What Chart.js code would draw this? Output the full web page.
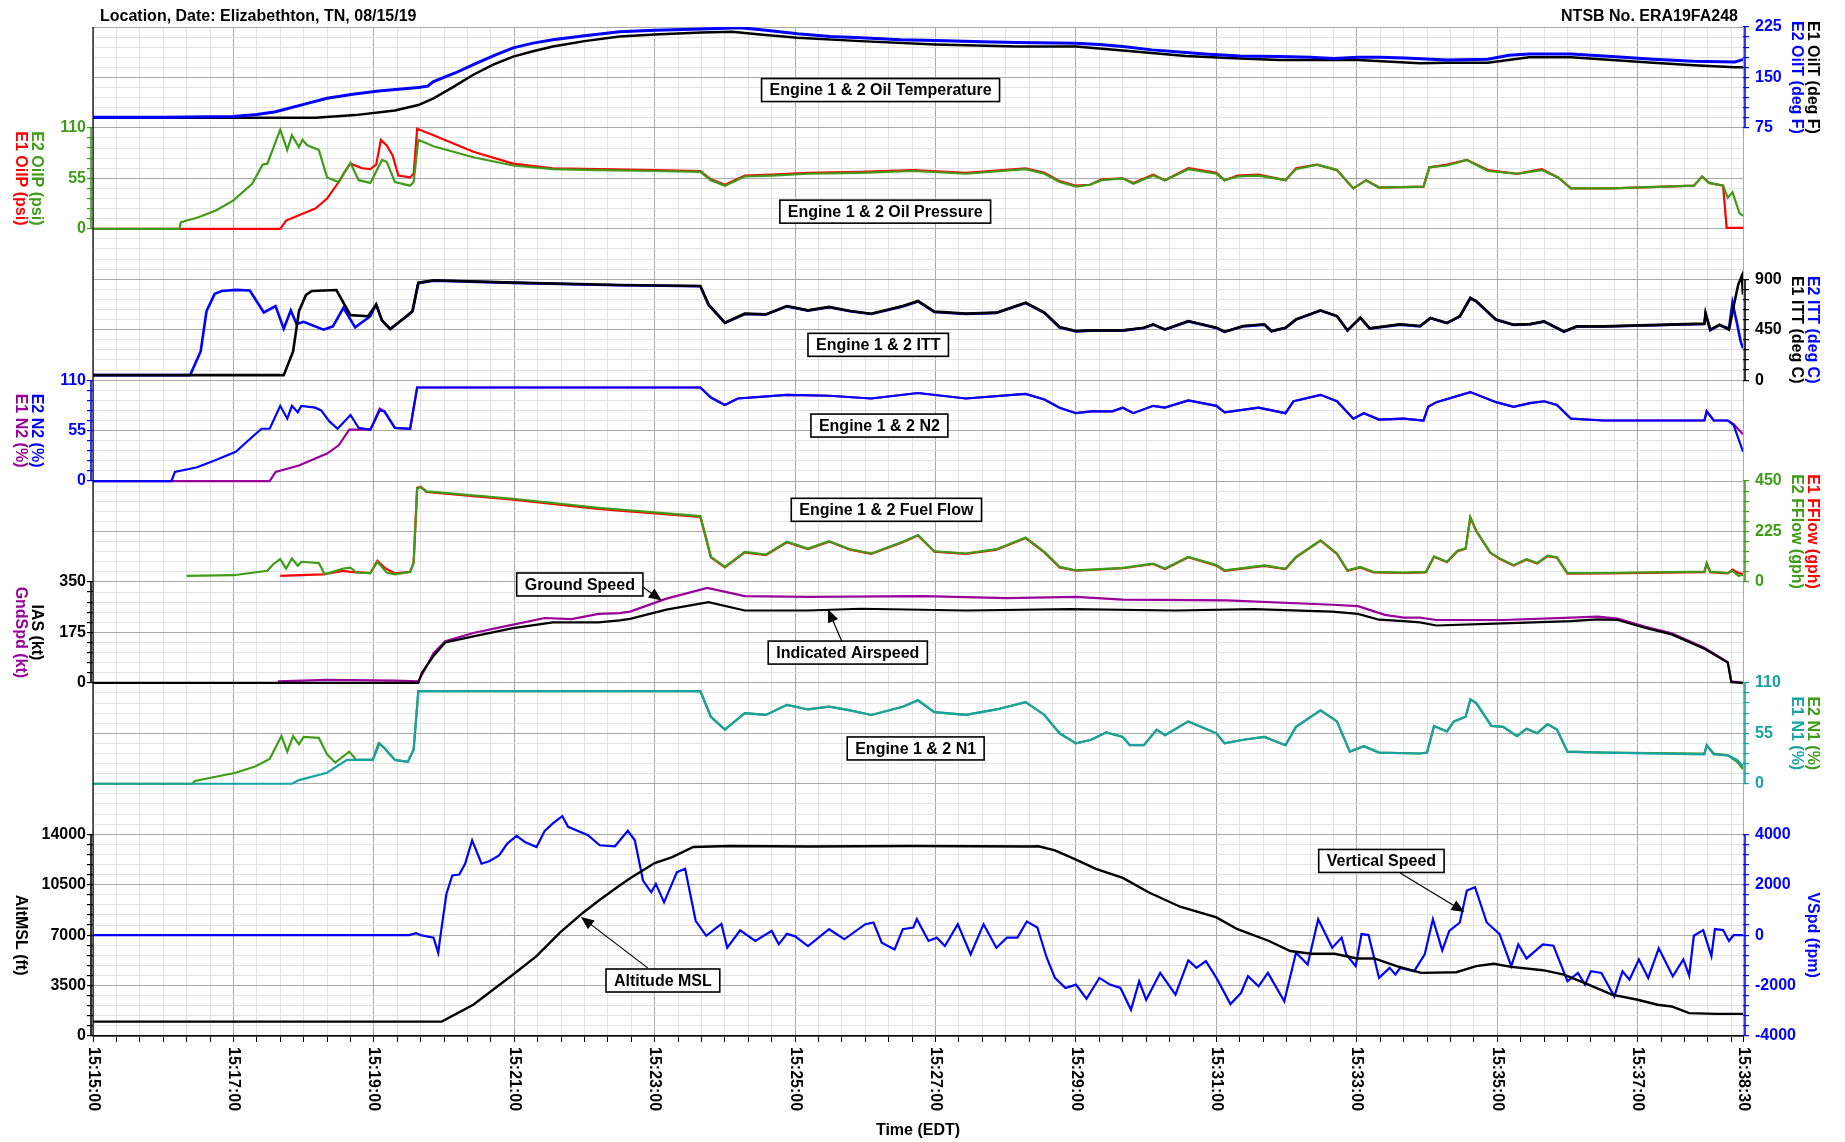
<!DOCTYPE html>
<html>
<head>
<meta charset="utf-8">
<script src="https://cdn.jsdelivr.net/npm/chart.js@4.4.1/dist/chart.umd.min.js"></script>
<style>
html,body{margin:0;padding:0;background:#fff;}
#wrap{width:1845px;height:1142px;position:relative;}
</style>
</head>
<body>
<div id="wrap"><canvas id="c" width="1845" height="1142"></canvas></div>
<script>
const FONT = "'Liberation Sans', Arial, sans-serif";

// ---------- tick labels (time in seconds after 15:15:00) ----------
const timeTickSecs = [0,120,240,360,480,600,720,840,960,1080,1200,1320,1410];
const timeTickLabels = ['15:15:00','15:17:00','15:19:00','15:21:00','15:23:00','15:25:00','15:27:00','15:29:00','15:31:00','15:33:00','15:35:00','15:37:00','15:38:30'];
const oilTTicks = [75,150,225];
const oilPTicks = [0,55,110];
const ittTicks  = [0,450,900];
const n2Ticks   = [0,55,110];
const ffTicks   = [0,225,450];
const spdTicks  = [0,175,350];
const n1Ticks   = [0,55,110];
const altTicks  = [0,3500,7000,10500,14000];
const vspdTicks = [-4000,-2000,0,2000,4000];

// ---------- series: [seconds after 15:15:00, value] ----------
const E2_OilT = [[0,91],[60,91],[120,92],[140,95],[156,99],[180,110],[200,119],[222,125],[244,130],[278,135],[286,137],[291,144],[310,157],[325,169],[342,182],[359,194],[376,201],[393,206],[420,212],[450,218],[480,220],[520,222],[553,224],[575,220],[602,215],[630,211],[656,209],[690,206],[720,205],[760,203],[790,202],[840,201],[860,199],[880,196],[905,191],[934,187],[950,185],[980,182],[1014,181],[1040,180],[1060,178],[1081,180],[1100,180],[1121,179],[1157,176],[1192,177],[1210,183],[1227,185],[1263,185],[1298,181],[1333,177],[1368,174],[1403,173],[1407,175],[1410,177]];
const E1_OilT = [[0,90],[120,90],[190,90],[224,94],[258,101],[278,109],[291,119],[308,136],[325,154],[342,169],[359,181],[376,189],[393,196],[420,204],[450,211],[480,214],[520,217],[546,218],[570,214],[602,209],[656,204],[720,199],[790,196],[840,196],[880,190],[934,182],[970,179],[1014,176],[1051,176],[1081,176],[1134,171],[1157,172],[1192,172],[1227,180],[1263,180],[1298,176],[1333,172],[1368,168],[1403,165],[1410,165]];

const E2_OilP = [[0,0],[74,0],[75,7],[80,9],[89,12],[105,20],[120,31],[136,49],[145,70],[149,71],[160,108],[166,86],[170,102],[176,89],[179,97],[183,91],[193,86],[200,56],[210,51],[220,72],[227,53],[237,50],[247,75],[251,73],[258,51],[271,47],[274,51],[278,97],[291,90],[325,78],[359,69],[393,65],[432,64],[480,63],[519,62],[528,53],[540,47],[557,57],[580,58],[611,60],[656,61],[701,63],[746,60],[797,65],[813,60],[826,51],[840,46],[852,48],[862,53],[880,55],[889,49],[906,58],[916,53],[936,65],[960,60],[967,53],[978,57],[996,58],[1019,53],[1028,65],[1046,70],[1063,64],[1077,44],[1088,53],[1099,45],[1137,46],[1142,67],[1157,69],[1174,75],[1192,63],[1217,60],[1238,64],[1252,56],[1263,44],[1298,44],[1368,47],[1375,57],[1381,50],[1393,47],[1397,34],[1401,40],[1407,17],[1410,14]];
const E1_OilP = [[0,0],[160,0],[165,9],[190,22],[200,33],[210,51],[215,62],[220,71],[230,66],[237,65],[242,70],[246,97],[251,91],[256,80],[261,58],[271,56],[274,60],[277,109],[291,102],[325,84],[359,71],[393,66],[432,65],[480,64],[519,63],[528,54],[540,48],[557,58],[580,59],[611,61],[656,62],[701,64],[746,61],[797,66],[813,61],[826,52],[840,47],[852,48],[862,54],[880,55],[889,50],[906,59],[916,53],[936,66],[960,61],[967,53],[978,58],[996,59],[1019,53],[1028,66],[1046,70],[1063,64],[1077,44],[1088,53],[1099,45],[1137,46],[1142,67],[1157,70],[1174,75],[1192,64],[1217,60],[1238,65],[1252,56],[1263,44],[1298,44],[1368,47],[1375,57],[1381,50],[1393,47],[1396,1],[1410,1]];

const E1_ITT = [[0,45],[163,45],[171,256],[176,615],[182,760],[187,795],[208,804],[220,580],[235,570],[242,675],[247,531],[254,456],[268,570],[273,615],[278,870],[291,891],[359,870],[450,849],[519,840],[526,676],[540,513],[557,593],[575,587],[593,661],[611,623],[629,653],[647,617],[665,593],[692,661],[705,706],[719,611],[746,593],[772,602],[797,691],[813,602],[826,474],[840,438],[853,444],[880,444],[898,468],[906,498],[916,453],[936,527],[960,468],[967,432],[983,483],[1001,498],[1007,438],[1019,468],[1028,542],[1049,623],[1063,572],[1072,444],[1083,557],[1091,462],[1117,498],[1134,483],[1143,555],[1157,510],[1168,570],[1177,735],[1182,705],[1199,540],[1214,495],[1228,500],[1240,525],[1257,435],[1268,480],[1291,480],[1377,504],[1378,600],[1382,450],[1390,495],[1398,450],[1402,660],[1406,855],[1409,930],[1410,765]];
const E2_ITT = [[0,45],[83,45],[92,256],[97,615],[104,770],[110,795],[122,805],[134,800],[146,604],[156,660],[163,459],[169,621],[174,500],[180,520],[197,450],[205,480],[214,645],[224,471],[237,570],[242,675],[247,531],[254,456],[268,570],[273,615],[278,865],[291,888],[359,868],[450,847],[519,838],[526,670],[540,510],[557,590],[575,585],[593,658],[611,620],[629,650],[647,615],[665,590],[692,658],[705,702],[719,608],[746,590],[772,600],[797,688],[813,600],[826,470],[840,435],[853,442],[880,442],[898,465],[906,495],[916,450],[936,524],[960,465],[967,430],[983,480],[1001,495],[1007,435],[1019,465],[1028,540],[1049,620],[1063,570],[1072,442],[1083,555],[1091,460],[1117,495],[1134,480],[1143,552],[1157,508],[1168,567],[1177,730],[1182,702],[1199,538],[1214,492],[1228,498],[1240,522],[1257,432],[1268,478],[1291,478],[1377,500],[1378,590],[1382,445],[1390,490],[1398,460],[1401,690],[1405,500],[1408,345],[1410,285]];

const E2_N2 = [[0,0],[67,0],[70,10],[89,15],[105,23],[122,32],[136,48],[144,57],[151,57],[160,82],[166,68],[170,82],[175,75],[178,82],[190,80],[195,77],[202,65],[209,57],[220,72],[227,58],[237,56],[245,77],[249,76],[258,58],[271,57],[277,102],[432,102],[519,102],[528,91],[540,83],[551,90],[593,94],[629,93],[665,90],[705,96],[746,90],[797,95],[813,89],[826,80],[840,74],[853,76],[871,76],[880,80],[889,74],[906,82],[916,80],[936,88],[960,82],[967,75],[996,80],[1019,74],[1026,87],[1049,94],[1063,87],[1077,68],[1086,74],[1099,67],[1120,68],[1137,66],[1141,81],[1148,86],[1177,97],[1199,86],[1214,81],[1228,85],[1240,87],[1251,83],[1263,68],[1291,66],[1377,66],[1379,76],[1385,66],[1397,66],[1402,61],[1410,32]];
const E1_N2 = [[0,0],[151,0],[156,10],[176,17],[200,30],[210,39],[219,56],[237,56],[245,79],[249,76],[258,58],[271,57],[277,102],[432,102],[519,102],[528,91],[540,83],[551,90],[593,94],[629,93],[665,90],[705,96],[746,90],[797,95],[813,89],[826,80],[840,74],[853,76],[871,76],[880,80],[889,74],[906,82],[916,80],[936,88],[960,82],[967,75],[996,80],[1019,74],[1026,87],[1049,94],[1063,87],[1077,68],[1086,74],[1099,67],[1120,68],[1137,66],[1141,81],[1148,86],[1177,97],[1199,86],[1214,81],[1228,85],[1240,87],[1251,83],[1263,68],[1291,66],[1377,66],[1379,76],[1385,66],[1397,66],[1402,62],[1410,51]];

const E2_FF = [[80,27],[120,30],[149,50],[154,79],[160,102],[165,60],[170,105],[175,72],[178,90],[193,84],[198,34],[214,60],[220,64],[225,42],[237,39],[243,90],[251,42],[258,34],[271,45],[274,87],[277,416],[280,423],[285,404],[359,371],[432,331],[450,323],[519,294],[524,194],[528,112],[540,67],[557,134],[575,122],[593,179],[611,149],[629,182],[647,146],[665,127],[692,179],[705,209],[719,137],[746,127],[772,146],[797,198],[813,134],[826,67],[840,52],[880,63],[906,82],[916,60],[936,112],[960,75],[967,52],[1001,74],[1019,59],[1028,112],[1049,186],[1063,127],[1072,52],[1083,67],[1094,45],[1120,42],[1139,45],[1146,114],[1157,90],[1166,139],[1173,150],[1177,289],[1182,229],[1194,132],[1202,105],[1214,75],[1225,102],[1234,84],[1243,117],[1251,110],[1260,39],[1291,40],[1377,46],[1379,84],[1382,46],[1397,40],[1401,50],[1406,27],[1410,32]];
const E1_FF = [[160,27],[196,34],[214,49],[220,45],[237,39],[243,94],[249,64],[258,38],[271,45],[274,85],[277,420],[280,425],[285,402],[359,367],[432,326],[450,318],[519,290],[524,192],[528,110],[540,65],[557,132],[575,120],[593,177],[611,147],[629,180],[647,144],[665,125],[692,177],[705,207],[719,135],[746,125],[772,144],[797,196],[813,132],[826,65],[840,50],[880,61],[906,80],[916,58],[936,110],[960,73],[967,50],[1001,72],[1019,57],[1028,110],[1049,184],[1063,125],[1072,50],[1083,65],[1094,43],[1120,40],[1139,43],[1146,112],[1157,88],[1166,137],[1173,148],[1177,287],[1182,227],[1194,130],[1202,103],[1214,73],[1225,100],[1234,82],[1243,115],[1251,108],[1260,37],[1291,38],[1377,44],[1379,82],[1382,44],[1397,38],[1401,55],[1406,40],[1410,36]];

const IAS = [[0,0],[278,0],[281,35],[291,93],[301,140],[325,161],[359,190],[393,210],[432,210],[450,217],[459,222],[490,254],[526,280],[557,251],[611,251],[656,257],[746,251],[835,256],[925,251],[992,256],[1059,247],[1081,239],[1099,219],[1120,214],[1134,210],[1148,199],[1205,206],[1263,214],[1286,220],[1303,218],[1326,191],[1349,168],[1377,118],[1397,70],[1400,2],[1410,0]];
const GndSpd = [[158,5],[200,10],[258,8],[278,5],[291,103],[301,144],[325,173],[359,202],[386,225],[409,221],[432,239],[450,242],[459,247],[490,292],[525,329],[557,301],[611,298],[710,301],[781,294],[840,298],[880,289],[969,286],[1059,271],[1081,266],[1104,236],[1120,226],[1134,226],[1148,218],[1205,218],[1263,226],[1286,230],[1303,223],[1326,195],[1349,172],[1377,122],[1397,72],[1400,5],[1410,0]];

const E1_N1 = [[0,0],[170,0],[176,4],[200,12],[217,26],[239,26],[245,44],[249,39],[258,26],[269,24],[274,37],[278,101],[432,101],[519,101],[528,73],[540,59],[557,77],[575,75],[593,86],[611,81],[629,84],[647,80],[665,75],[692,84],[705,91],[719,78],[746,75],[772,81],[797,89],[813,75],[826,55],[840,44],[853,48],[866,56],[880,51],[886,42],[898,42],[909,59],[916,53],[936,68],[960,55],[967,44],[983,48],[1001,51],[1019,42],[1028,62],[1049,80],[1063,68],[1074,35],[1086,41],[1099,34],[1134,33],[1140,34],[1146,63],[1157,57],[1163,68],[1173,73],[1177,92],[1182,88],[1195,63],[1205,62],[1217,52],[1225,60],[1234,55],[1243,65],[1251,59],[1260,35],[1291,34],[1377,32],[1379,42],[1385,32],[1397,31],[1405,26],[1410,19]];
const E2_N1 = [[0,0],[85,0],[87,3],[122,12],[139,19],[151,27],[161,52],[166,35],[171,52],[176,43],[180,51],[193,50],[200,32],[207,23],[219,35],[225,26],[239,26],[244,44],[249,39],[258,26],[269,24],[274,37],[278,101],[432,101],[519,101],[528,73],[540,59],[557,77],[575,75],[593,86],[611,81],[629,84],[647,80],[665,75],[692,84],[705,91],[719,78],[746,75],[772,81],[797,89],[813,75],[826,55],[840,44],[853,48],[866,56],[880,51],[886,42],[898,42],[909,59],[916,53],[936,68],[960,55],[967,44],[983,48],[1001,51],[1019,42],[1028,62],[1049,80],[1063,68],[1074,35],[1086,41],[1099,34],[1134,33],[1140,34],[1146,63],[1157,57],[1163,68],[1173,73],[1177,92],[1182,88],[1195,63],[1205,62],[1217,52],[1225,60],[1234,55],[1243,65],[1251,59],[1260,35],[1291,34],[1377,33],[1379,42],[1385,33],[1397,31],[1405,24],[1410,16]];

const AltMSL = [[0,1000],[298,1000],[325,2165],[359,4262],[379,5544],[399,7175],[419,8572],[432,9388],[450,10436],[459,10950],[480,11997],[495,12416],[513,13115],[544,13185],[611,13150],[701,13185],[799,13150],[808,13160],[822,12882],[840,12230],[857,11600],[880,10972],[902,9970],[929,8968],[960,8223],[978,7408],[1005,6592],[1023,5893],[1041,5707],[1061,5707],[1080,5381],[1095,5381],[1114,4845],[1135,4380],[1165,4426],[1182,4845],[1197,5008],[1212,4798],[1239,4566],[1257,4263],[1278,3564],[1298,2865],[1320,2516],[1337,2166],[1349,2050],[1364,1584],[1387,1537],[1410,1537]];
const VSpd = [[0,0],[270,0],[276,80],[280,0],[291,-100],[295,-700],[297,0],[302,1630],[307,2362],[313,2400],[318,2830],[324,3760],[332,2830],[339,2935],[347,3160],[354,3627],[362,3933],[369,3694],[379,3494],[386,4133],[393,4426],[401,4719],[406,4293],[423,3960],[433,3560],[446,3520],[457,4133],[463,3760],[470,2163],[477,1697],[481,2030],[488,1298],[499,2496],[506,2630],[515,566],[524,-27],[537,440],[542,-500],[553,193],[566,-233],[580,166],[586,-366],[593,50],[600,-50],[611,-433],[629,233],[642,-166],[660,433],[667,500],[674,-300],[685,-566],[692,233],[701,300],[704,632],[714,-233],[721,-100],[728,-433],[739,433],[750,-766],[761,433],[772,-500],[781,-100],[790,-100],[798,540],[807,300],[815,-898],[822,-1697],[831,-2096],[840,-1963],[849,-2522],[860,-1697],[869,-1963],[878,-2096],[887,-2962],[894,-1830],[900,-2562],[912,-1497],[925,-2363],[936,-1005],[943,-1298],[951,-1031],[960,-1697],[972,-2735],[981,-2296],[987,-1630],[996,-2030],[1004,-1497],[1018,-2629],[1028,-698],[1038,-1165],[1047,632],[1059,-500],[1067,-100],[1071,-766],[1079,-1231],[1084,40],[1090,0],[1099,-1697],[1108,-1300],[1113,-1564],[1117,-1298],[1129,-1430],[1138,-766],[1145,632],[1153,-606],[1159,166],[1168,500],[1174,1764],[1181,1897],[1191,500],[1202,40],[1212,-1231],[1218,-366],[1225,-925],[1239,-366],[1248,-420],[1260,-1830],[1269,-1497],[1275,-1963],[1280,-1430],[1289,-1500],[1300,-2430],[1307,-1430],[1313,-1764],[1321,-965],[1329,-1697],[1338,-525],[1350,-1630],[1359,-965],[1364,-1600],[1368,-27],[1376,200],[1383,-832],[1386,240],[1393,200],[1398,-233],[1402,0],[1410,0]];

// ---------- styles / layout ----------
const BLUE='#0000ff', BLACK='#000000', GREEN='#3f9c18', RED='#ff0000', PURPLE='#990099', TEAL='#18a2a2';
const K = 20; // plot height in major grid rows

const panels = {
  yOilT: {side:'right', kTop:0,  kBot:2,  ticks:oilTTicks, color:BLUE,  title:[['E1 OilT (deg F)',BLACK],['E2 OilT (deg F)',BLUE]]},
  yOilP: {side:'left',  kTop:2,  kBot:4,  ticks:oilPTicks, color:GREEN, title:[['E2 OilP (psi)',GREEN],['E1 OilP (psi)',RED]]},
  yITT:  {side:'right', kTop:5,  kBot:7,  ticks:ittTicks,  color:BLACK, title:[['E2 ITT (deg C)',BLUE],['E1 ITT (deg C)',BLACK]]},
  yN2:   {side:'left',  kTop:7,  kBot:9,  ticks:n2Ticks,   color:BLUE,  title:[['E2 N2 (%)',BLUE],['E1 N2 (%)',PURPLE]]},
  yFF:   {side:'right', kTop:9,  kBot:11, ticks:ffTicks,   color:GREEN, title:[['E1 FFlow (gph)',RED],['E2 FFlow (gph)',GREEN]]},
  ySpd:  {side:'left',  kTop:11, kBot:13, ticks:spdTicks,  color:BLACK, title:[['IAS (kt)',BLACK],['GndSpd (kt)',PURPLE]]},
  yN1:   {side:'right', kTop:13, kBot:15, ticks:n1Ticks,   color:TEAL,  title:[['E2 N1 (%)',GREEN],['E1 N1 (%)',TEAL]]},
  yAlt:  {side:'left',  kTop:16, kBot:20, ticks:altTicks,  color:BLACK, title:[['AltMSL (ft)',BLACK]]},
  yVS:   {side:'right', kTop:16, kBot:20, ticks:vspdTicks, color:BLUE,  title:[['VSpd (fpm)',BLUE]]}
};

const notes = [
  {text:'Engine 1 & 2 Oil Temperature', t:673, k:1.25},
  {text:'Engine 1 & 2 Oil Pressure', t:677, k:3.66},
  {text:'Engine 1 & 2 ITT', t:671, k:6.3},
  {text:'Engine 1 & 2 N2', t:672, k:7.9},
  {text:'Engine 1 & 2 Fuel Flow', t:678, k:9.57},
  {text:'Ground Speed', t:416, k:11.05, from:[470,11.1], to:[486,11.37]},
  {text:'Indicated Airspeed', t:645, k:12.4, from:[640,12.18], to:[628,11.54]},
  {text:'Engine 1 & 2 N1', t:703, k:14.3},
  {text:'Vertical Speed', t:1101, k:16.53, from:[1117,16.77], to:[1172,17.54]},
  {text:'Altitude MSL', t:487, k:18.9, from:[474,18.65], to:[417,17.64]}
];

function makeY(p) {
  const lo = p.ticks[0], hi = p.ticks[p.ticks.length-1];
  const perK = (hi - lo) / (p.kBot - p.kTop);
  const step = (p.ticks[1] - p.ticks[0]) / 5;
  const all = [];
  for (let v = lo; v <= hi + 1e-9; v += step) all.push(Math.round(v));
  return {
    type:'linear', position:p.side, display:true,
    min: lo - (K - p.kBot) * perK, max: hi + p.kTop * perK,
    afterFit: s => { s.width = 0; },
    afterBuildTicks: s => { s.ticks = all.map(v => ({value:v})); },
    ticks: {autoSkip:false, color:p.color, padding: p.side === 'left' ? 1 : 6,
      font:{family:FONT, size:16, weight:'bold'},
      callback: v => p.ticks.includes(v) ? String(v) : ''},
    grid: {drawOnChartArea:false, drawTicks:true, tickLength:6, color:p.color, tickColor:p.color, lineWidth:1.2},
    border: {display:false},
    title: {display:false}
  };
}

const scales = {
  x: {
    type:'linear', min:0, max:1410,
    afterBuildTicks: s => { const t=[]; for (let v=0; v<=1400; v+=20) t.push({value:v}); t.push({value:1410}); s.ticks=t; },
    ticks:{display:false},
    grid:{drawTicks:true, tickLength:6, tickColor:'#000', lineWidth:1,
      color: c => (c.tick && (c.tick.value % 120 === 0 || c.tick.value === 1410)) ? '#a9a9a9' : '#e2e2e2'},
    border:{display:true, color:'#000', width:1.5}
  },
  gridY: {
    type:'linear', position:'left', min:0, max:100, display:true,
    afterFit: s => { s.width = 0; },
    afterBuildTicks: s => { const t=[]; for (let i=0;i<=100;i++) t.push({value:i}); s.ticks=t; },
    ticks:{display:false},
    border:{display:false},
    grid:{drawTicks:false, lineWidth:1, color: c => (c.tick && c.tick.value % 5 === 0) ? '#a9a9a9' : '#e2e2e2'}
  }
};
for (const id in panels) scales[id] = makeY(panels[id]);

const toXY = a => a.map(([x,y]) => ({x, y}));
function ds(label, data, axis, color, w) {
  return {label, data: toXY(data), yAxisID: axis, xAxisID:'x', borderColor: color, backgroundColor: color,
    borderWidth: w || 2, pointRadius: 0, tension: 0, fill: false};
}
const datasets = [
  ds('E2 OilT', E2_OilT, 'yOilT', BLUE, 3),
  ds('E1 OilT', E1_OilT, 'yOilT', BLACK, 2.5),
  ds('E2 OilP', E2_OilP, 'yOilP', GREEN, 2.2),
  ds('E1 OilP', E1_OilP, 'yOilP', RED, 2.2),
  ds('E1 ITT', E1_ITT, 'yITT', BLACK, 2.6),
  ds('E2 ITT', E2_ITT, 'yITT', BLUE, 2.6),
  ds('E2 N2', E2_N2, 'yN2', BLUE, 2.2),
  ds('E1 N2', E1_N2, 'yN2', PURPLE, 2.2),
  ds('E2 FFlow', E2_FF, 'yFF', GREEN, 2.2),
  ds('E1 FFlow', E1_FF, 'yFF', RED, 2.2),
  ds('IAS', IAS, 'ySpd', BLACK, 2.2),
  ds('GndSpd', GndSpd, 'ySpd', PURPLE, 2.2),
  ds('E1 N1', E1_N1, 'yN1', TEAL, 2.2),
  ds('E2 N1', E2_N1, 'yN1', GREEN, 2.2),
  ds('AltMSL', AltMSL, 'yAlt', BLACK, 2.4),
  ds('VSpd', VSpd, 'yVS', BLUE, 2.2)
];

const decor = {
  id:'decor',
  afterLayout(chart) {
    // give the zero-width panel axes a label area (they share the margins)
    const ca = chart.chartArea;
    for (const id in panels) {
      const s = chart.scales[id];
      if (panels[id].side === 'left') { s.left = ca.left - 92; s.right = ca.left; }
      else { s.left = ca.right; s.right = ca.right + 100; }
      s.width = s.right - s.left;
    }
  },
  afterDraw(chart) {
    const {ctx, chartArea: ca, scales: S} = chart;
    const bold = sz => `bold ${sz}px ${FONT}`;
    ctx.save();
    // left plot edge
    ctx.strokeStyle = '#000'; ctx.lineWidth = 1.2;
    ctx.beginPath(); ctx.moveTo(ca.left, ca.top); ctx.lineTo(ca.left, ca.bottom); ctx.stroke();

    // axis brackets and rotated titles
    for (const id in panels) {
      const p = panels[id], s = S[id];
      const lo = p.ticks[0], hi = p.ticks[p.ticks.length-1];
      const y1 = s.getPixelForValue(hi), y2 = s.getPixelForValue(lo);
      const bx = p.side === 'left' ? ca.left - 2 : ca.right + 2;
      ctx.strokeStyle = p.color; ctx.lineWidth = 1.6;
      ctx.beginPath(); ctx.moveTo(bx, y1); ctx.lineTo(bx, y2); ctx.stroke();
      const cy = (y1 + y2) / 2, n = p.title.length;
      ctx.font = bold(16); ctx.textAlign = 'center'; ctx.textBaseline = 'middle';
      p.title.forEach(([txt, col], i) => {
        const cx = p.side === 'left' ? ca.left - 73 + (n - 1 - i) * 16 : ca.right + 69 - i * 16;
        ctx.save(); ctx.translate(cx, cy); ctx.rotate(Math.PI / 2);
        ctx.fillStyle = col; ctx.fillText(txt, 0, 0); ctx.restore();
      });
    }

    // time labels (rotated clockwise)
    ctx.fillStyle = '#000'; ctx.font = bold(16); ctx.textAlign = 'left'; ctx.textBaseline = 'middle';
    timeTickSecs.forEach((t, i) => {
      const x = S.x.getPixelForValue(t);
      ctx.save(); ctx.translate(x, ca.bottom + 11); ctx.rotate(Math.PI / 2);
      ctx.fillText(timeTickLabels[i], 0, 0); ctx.restore();
    });
    ctx.textAlign = 'center';
    ctx.fillText('Time (EDT)', (ca.left + ca.right) / 2, ca.bottom + 95);

    // header
    ctx.textBaseline = 'alphabetic';
    ctx.textAlign = 'left';
    ctx.fillText('Location, Date: Elizabethton, TN, 08/15/19', ca.left + 7, ca.top - 6);
    ctx.textAlign = 'right';
    ctx.fillText('NTSB No. ERA19FA248', ca.right - 5, ca.top - 6);

    // annotations
    const px = t => S.x.getPixelForValue(t);
    const py = k => S.gridY.getPixelForValue(100 - 5 * k);
    notes.forEach(nt => {
      if (nt.from) {
        const x1 = px(nt.from[0]), y1 = py(nt.from[1]), x2 = px(nt.to[0]), y2 = py(nt.to[1]);
        const ang = Math.atan2(y2 - y1, x2 - x1), L = 13, W = 5.5;
        ctx.strokeStyle = '#000'; ctx.lineWidth = 1.2;
        ctx.beginPath(); ctx.moveTo(x1, y1);
        ctx.lineTo(x2 - (L - 2) * Math.cos(ang), y2 - (L - 2) * Math.sin(ang)); ctx.stroke();
        ctx.fillStyle = '#000'; ctx.beginPath();
        ctx.moveTo(x2, y2);
        ctx.lineTo(x2 - L * Math.cos(ang) + W * Math.sin(ang), y2 - L * Math.sin(ang) - W * Math.cos(ang));
        ctx.lineTo(x2 - L * Math.cos(ang) - W * Math.sin(ang), y2 - L * Math.sin(ang) + W * Math.cos(ang));
        ctx.closePath(); ctx.fill();
      }
      ctx.font = bold(16);
      const w = ctx.measureText(nt.text).width + 16, h = 23;
      const cx = px(nt.t), cy = py(nt.k);
      ctx.fillStyle = '#fff'; ctx.fillRect(cx - w / 2, cy - h / 2, w, h);
      ctx.strokeStyle = '#000'; ctx.lineWidth = 1.6; ctx.strokeRect(cx - w / 2, cy - h / 2, w, h);
      ctx.fillStyle = '#000'; ctx.textAlign = 'center'; ctx.textBaseline = 'middle';
      ctx.fillText(nt.text, cx, cy + 1);
    });
    ctx.restore();
  }
};

new Chart(document.getElementById('c'), {
  type:'line',
  data:{datasets},
  options:{
    responsive:false, animation:false, devicePixelRatio:1,
    layout:{padding:{left:93, right:102, top:27, bottom:100}},
    plugins:{legend:{display:false}, tooltip:{enabled:false}},
    scales
  },
  plugins:[decor]
});
</script>
</body>
</html>
